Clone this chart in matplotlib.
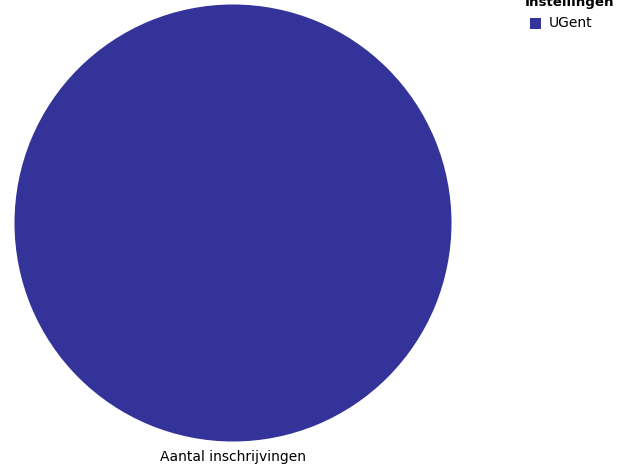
import matplotlib
matplotlib.use("Agg")
import matplotlib.pyplot as plt
from matplotlib.patches import Rectangle

categories = ["UGent"]
values = [1]
colors = ["#333399"]
series_label = "Aantal inschrijvingen"
legend_title = "Instellingen"

W, H = 629, 467
fig = plt.figure(figsize=(W / 100, H / 100), dpi=100)
fig.patch.set_facecolor("white")

cx, cy, r = 233, 223, 218.5
ax = fig.add_axes([(cx - r) / W, (H - cy - r) / H, 2 * r / W, 2 * r / H])
ax.pie(values, colors=colors, radius=1, startangle=90, counterclock=False,
       wedgeprops=dict(linewidth=0))
ax.set_xlim(-1, 1)
ax.set_ylim(-1, 1)
ax.set_aspect("auto")
ax.axis("off")

fig.text(cx / W, 1 - 461 / H, series_label, ha="center", va="baseline",
         fontsize=10, family="DejaVu Sans", color="#000000")

# legend
fig.text(570 / W, 1 - 6 / H, legend_title, ha="center", va="baseline",
         fontsize=9.6, fontweight="bold", family="DejaVu Sans", color="#000000")
for i, (cat, col) in enumerate(zip(categories, colors)):
    y = 23 + i * 18
    fig.patches.append(Rectangle((530 / W, 1 - (y + 5.5) / H), 11 / W, 11 / H,
                                 transform=fig.transFigure, facecolor=col,
                                 edgecolor="none"))
    fig.text(549 / W, 1 - (y + 4) / H, cat, ha="left", va="baseline",
             fontsize=10, family="DejaVu Sans", color="#000000")

fig.savefig("out.png", dpi=100)
